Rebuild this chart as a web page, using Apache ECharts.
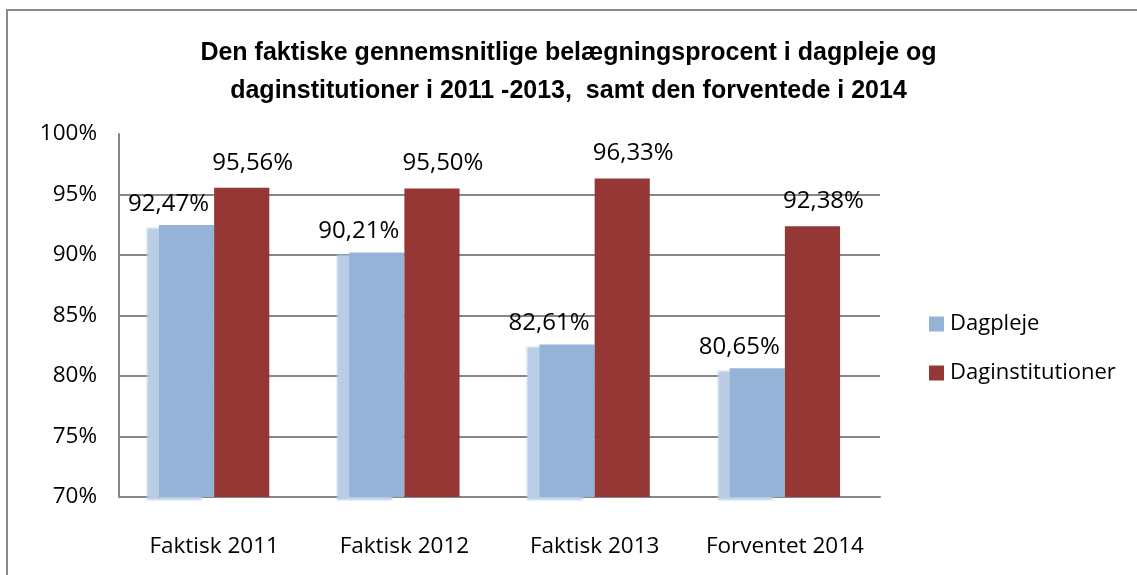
<!DOCTYPE html>
<html>
<head>
<meta charset="utf-8">
<script src="https://cdn.jsdelivr.net/npm/echarts@6/dist/echarts.min.js"></script>
<style>
    html, body { margin: 0; padding: 0; background: #fff; }
    #chart { width: 1137px; height: 575px; }
</style>
</head>
<body>
<div id="chart"></div>
<script>
    // data
    var categories = ['Faktisk 2011', 'Faktisk 2012', 'Faktisk 2013', 'Forventet 2014'];
    var dagpleje = [92.47, 90.21, 82.61, 80.65];
    var daginstitutioner = [95.56, 95.50, 96.33, 92.38];
    var seriesNames = ['Dagpleje', 'Daginstitutioner'];

    var font = 'Open Sans';
    var gray = '#868686';

    function pct(p) {
        return p.value.toFixed(2).replace('.', ',') + '%';
    }

    var chart = echarts.init(document.getElementById('chart'));
    var option = {
        backgroundColor: '#fff',
        textStyle: { fontFamily: font },
        animation: false,
        title: {
            text: 'Den faktiske gennemsnitlige belægningsprocent i dagpleje og\ndaginstitutioner i 2011 -2013,  samt den forventede i 2014',
            left: 'center',
            top: 29,
            textStyle: {
                fontFamily: 'Liberation Sans',
                fontSize: 25,
                fontWeight: 'bold',
                lineHeight: 38,
                color: '#000'
            }
        },
        legend: {
            orient: 'vertical',
            left: 924,
            top: 308,
            itemWidth: 15,
            itemHeight: 15,
            itemGap: 27,
            icon: 'rect',
            textStyle: { fontFamily: font, fontSize: 22, color: '#000', padding: [0, 0, 0, 1] },
            data: seriesNames
        },
        grid: {
            left: 119,
            right: 257,
            top: 134,
            bottom: 78
        },
        xAxis: {
            type: 'category',
            data: categories,
            axisLine: { lineStyle: { color: gray, width: 2 } },
            axisTick: { show: false },
            axisLabel: { interval: 0, fontFamily: font, fontSize: 22.5, color: '#000', margin: 38 }
        },
        yAxis: {
            type: 'value',
            min: 70,
            max: 100,
            interval: 5,
            axisLine: { show: true, lineStyle: { color: gray, width: 2 } },
            axisTick: { show: false },
            axisLabel: { formatter: '{value}%', fontFamily: font, fontSize: 22.5, color: '#000', margin: 22 },
            splitLine: { show: true, showMaxLine: false, lineStyle: { color: gray, width: 2 } }
        },
        series: [
            {
                name: seriesNames[0],
                type: 'bar',
                data: dagpleje,
                barGap: '0%',
                barCategoryGap: '42%',
                itemStyle: {
                    color: '#95b3d7',
                    shadowColor: '#b9cde5',
                    shadowOffsetX: -12,
                    shadowOffsetY: 3,
                    shadowBlur: 2
                },
                label: {
                    show: true,
                    position: 'top',
                    offset: [-18, -4],
                    formatter: pct,
                    fontFamily: font,
                    fontSize: 24,
                    color: '#000'
                }
            },
            {
                name: seriesNames[1],
                type: 'bar',
                data: daginstitutioner,
                itemStyle: { color: '#953735' },
                label: {
                    show: true,
                    position: 'top',
                    offset: [11, -8],
                    formatter: pct,
                    fontFamily: font,
                    fontSize: 24,
                    color: '#000'
                }
            }
        ],
        graphic: [
            {
                type: 'rect',
                shape: { x: 7, y: 10, width: 1300, height: 800 },
                style: { fill: 'none', stroke: '#8c8c8c', lineWidth: 2 },
                silent: true
            }
        ]
    };
    chart.setOption(option);
</script>
</body>
</html>
